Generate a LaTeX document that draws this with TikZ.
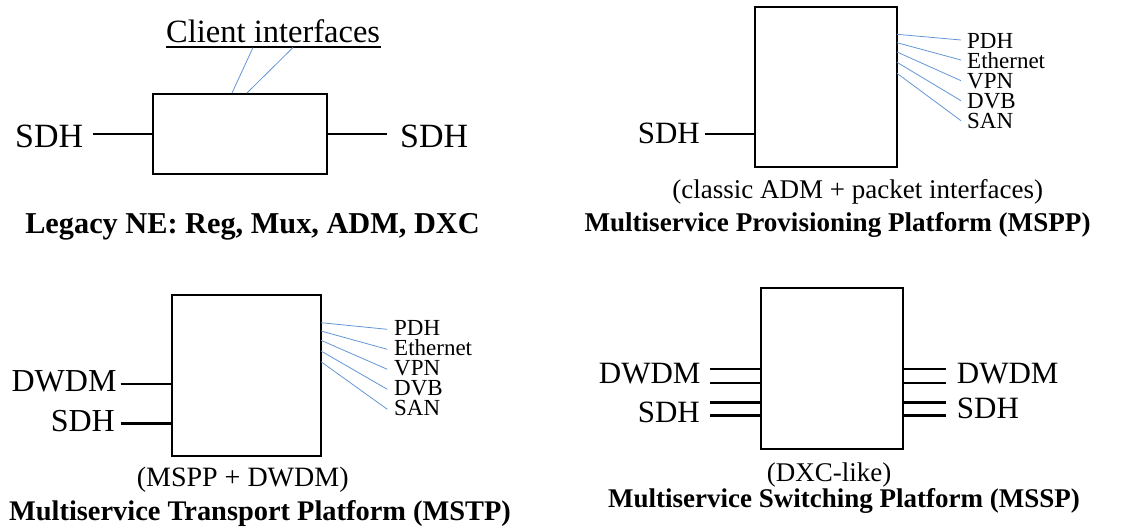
\documentclass[tikz,border=0pt]{standalone}
\usepackage{fontspec}
\setmainfont{Liberation Serif}
\definecolor{fanblue}{RGB}{100,150,212}
\tikzset{
  boxnode/.style={draw, line width=2.8pt, inner sep=0pt},
  wire/.style={line width=2.8pt},
  fanline/.style={line width=0.8pt, fanblue},
  biglbl/.style={inner sep=0pt, font=\fontsize{32}{32}\selectfont},
  sublbl/.style={inner sep=0pt, font=\fontsize{27}{27}\selectfont},
  smalllbl/.style={inner sep=0pt, text height=13pt, text depth=3pt, font=\fontsize{23}{23}\selectfont},
  titlelbl/.style={inner sep=0pt, font=\bfseries\fontsize{29}{29}\selectfont},
}
\begin{document}
\begin{tikzpicture}[x=1pt,y=-1pt]
\useasboundingbox (0,0) rectangle (1125,528);

% ---------- Panel 1: Legacy NE ----------
\node[boxnode, minimum width=174pt, minimum height=80pt] (b1) at (240,134) {};
\node[biglbl, font=\fontsize{34}{34}\selectfont, anchor=base west] (s1l) at (15,147) {SDH};
\node[biglbl, font=\fontsize{34}{34}\selectfont, anchor=base west] (s1r) at (400,147) {SDH};
\coordinate (w1a) at (93,134);
\coordinate (w1b) at (387,134);
\draw[wire] (w1a) -- (b1.west);
\draw[wire] (b1.east) -- (w1b);
\node[biglbl, font=\fontsize{32.5}{32.5}\selectfont, anchor=base west] (ci) at (166,42) {Client interfaces};
\coordinate (ul1) at (166,46.7);
\coordinate (ul2) at (381,46.7);
\draw[line width=1.6pt] (ul1) -- (ul2);
\coordinate (c1a) at (253,47.5);
\coordinate (c1b) at (293,47.5);
\coordinate (c1c) at (232,93);
\coordinate (c1d) at (247,93);
\draw[fanline] (c1a) -- (c1c);
\draw[fanline] (c1b) -- (c1d);
\node[titlelbl, font=\bfseries\fontsize{30.3}{30.3}\selectfont, anchor=base] (t1) at (252.5,233) {Legacy NE: Reg, Mux, ADM, DXC};

% ---------- Panel 2: MSPP ----------
\node[boxnode, minimum width=142pt, minimum height=160pt] (b2) at (826,87) {};
\node[biglbl, font=\fontsize{31}{31}\selectfont, anchor=base east] (s2) at (700,143) {SDH};
\coordinate (w2a) at (705,134);
\coordinate (w2b) at (b2.west |- w2a);
\draw[wire] (w2a) -- (w2b);
\foreach \n/\sy/\ey/\by/\t in {1/34.3/40/48.3/PDH, 2/42.7/60/68.3/Ethernet, 3/52/80.7/88.3/VPN, 4/62.3/100.7/108.3/DVB, 5/73.3/120.7/128.3/SAN}{
  \coordinate (f2s\n) at (897,\sy);
  \coordinate (f2e\n) at (961,\ey);
  \node[smalllbl, anchor=base west] (l2\n) at (967,\by) {\t};
  \draw[fanline] (f2s\n) -- (f2e\n);
}
\node[sublbl, anchor=base] (u2) at (857.7,198) {(classic ADM + packet interfaces)};
\node[titlelbl, font=\bfseries\fontsize{27.1}{27.1}\selectfont, anchor=base] (t2) at (837.5,231.7) {Multiservice Provisioning Platform (MSPP)};

% ---------- Panel 3: MSTP ----------
\node[boxnode, minimum width=149pt, minimum height=161pt] (b3) at (246.5,375.5) {};
\node[biglbl, anchor=base east] (d3) at (116.7,391.7) {DWDM};
\node[biglbl, anchor=base east] (s3) at (115,431) {SDH};
\coordinate (w3a) at (120.7,384);
\coordinate (w3b) at (120.7,423.3);
\draw[wire] (w3a) -- (b3.west |- w3a);
\draw[wire] (w3b) -- (b3.west |- w3b);
\foreach \n/\sy/\ey/\by/\t in {1/322.7/329.3/335.7/PDH, 2/331/349.3/355.7/Ethernet, 3/340.3/369.3/375.7/VPN, 4/351/389.3/395.7/DVB, 5/361.7/409.3/415.7/SAN}{
  \coordinate (f3s\n) at (321,\sy);
  \coordinate (f3e\n) at (387.3,\ey);
  \node[smalllbl, anchor=base west] (l3\n) at (394,\by) {\t};
  \draw[fanline] (f3s\n) -- (f3e\n);
}
\node[sublbl, font=\fontsize{28}{28}\selectfont, anchor=base] (u3) at (242.7,486.7) {(MSPP + DWDM)};
\node[titlelbl, font=\bfseries\fontsize{28.4}{28.4}\selectfont, anchor=base] (t3) at (260,520.7) {Multiservice Transport Platform (MSTP)};

% ---------- Panel 4: MSSP ----------
\node[boxnode, minimum width=142pt, minimum height=161pt] (b4) at (832,368.5) {};
\node[biglbl, font=\fontsize{31}{31}\selectfont, anchor=base east] (d4l) at (700.7,383.3) {DWDM};
\node[biglbl, font=\fontsize{31}{31}\selectfont, anchor=base east] (s4l) at (700,422.7) {SDH};
\node[biglbl, font=\fontsize{31}{31}\selectfont, anchor=base west] (d4r) at (956.7,383) {DWDM};
\node[biglbl, font=\fontsize{31}{31}\selectfont, anchor=base west] (s4r) at (956.7,418.3) {SDH};
\foreach \n/\yy in {1/369, 2/383, 3/402.7, 4/415.7}{
  \coordinate (p4l\n) at (710,\yy);
  \coordinate (p4r\n) at (946,\yy);
  \draw[wire] (p4l\n) -- (b4.west |- p4l\n);
  \draw[wire] (b4.east |- p4r\n) -- (p4r\n);
}
\node[sublbl, text height=19pt, text depth=5pt, anchor=base] (u4) at (829,481.7) {(DXC-like)};
\node[titlelbl, font=\bfseries\fontsize{27}{27}\selectfont, anchor=base] (t4) at (844,507.3) {Multiservice Switching Platform (MSSP)};
\end{tikzpicture}
\end{document}
